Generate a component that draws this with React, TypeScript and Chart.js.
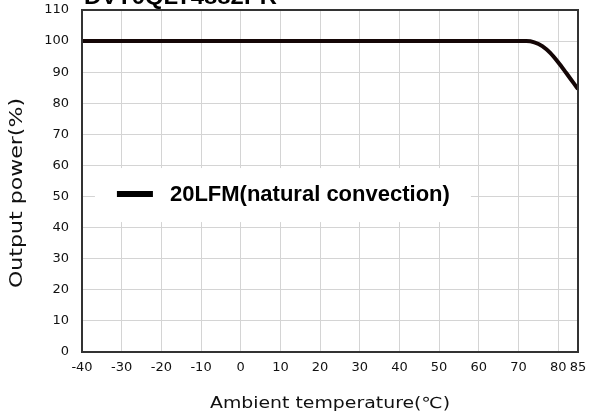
import React, { useEffect, useRef } from "react";
import { Chart, registerables } from "chart.js";
Chart.register(...registerables);

const temps = [-40, 0, 40, 70, 72, 74, 76, 78, 80, 82, 84, 85];
const power = [100, 100, 100, 100, 100, 99.6, 98.4, 96.2, 93.2, 89.8, 86.3, 84.6];
const xTicks = [-40, -30, -20, -10, 0, 10, 20, 30, 40, 50, 60, 70, 80, 85];
const seriesLabel = "20LFM(natural convection)";
const titleText = "DVT0QLT4882PR";
const xTitle = "Ambient temperature(\u2103)";
const yTitle = "Output power(%)";

const tickFont = { family: "'DejaVu Sans', sans-serif", size: 13 };

function drawWide(ctx: any, text: string, font: string, width: number) {
  ctx.font = font;
  const w = ctx.measureText(text).width;
  const s = width / w;
  ctx.scale(s, 1);
  ctx.fillText(text, 0, 0);
}

const framePlugin = {
  id: "frameLegend",
  afterDatasetsDraw(chart: any) {
    const { ctx, chartArea } = chart;
    const xs = chart.scales.x;
    const ys = chart.scales.y;
    ctx.save();
    // legend box
    const lx0 = xs.getPixelForValue(-31.2);
    const ly = ys.getPixelForValue(50.8);
    ctx.fillStyle = "#ffffff";
    ctx.fillRect(lx0 - 22, ly - 26, 376, 54);
    ctx.strokeStyle = "#000";
    ctx.lineWidth = 6;
    ctx.beginPath();
    ctx.moveTo(lx0, ly);
    ctx.lineTo(lx0 + 36, ly);
    ctx.stroke();
    ctx.fillStyle = "#000";
    ctx.font = "bold 22px 'Liberation Sans', Arial, sans-serif";
    ctx.textBaseline = "middle";
    ctx.fillText(seriesLabel, lx0 + 53, ly + 1);
    // frame
    ctx.strokeStyle = "#333";
    ctx.lineWidth = 2;
    ctx.strokeRect(chartArea.left, chartArea.top, chartArea.right - chartArea.left, chartArea.bottom - chartArea.top);
    ctx.restore();

    // clipped title
    ctx.save();
    ctx.fillStyle = "#000";
    ctx.textBaseline = "alphabetic";
    ctx.textAlign = "left";
    ctx.translate(84, 4);
    drawWide(ctx, titleText, "bold 22px 'Liberation Sans', Arial, sans-serif", 193);
    ctx.restore();

    // x title
    ctx.save();
    ctx.fillStyle = "#111";
    ctx.textBaseline = "middle";
    ctx.textAlign = "center";
    ctx.translate(330, 404);
    drawWide(ctx, xTitle, "15px 'DejaVu Sans', sans-serif", 240);
    ctx.restore();

    // y title
    ctx.save();
    ctx.fillStyle = "#111";
    ctx.textBaseline = "middle";
    ctx.textAlign = "center";
    ctx.translate(18, 193);
    ctx.rotate(-Math.PI / 2);
    drawWide(ctx, yTitle, "17px 'DejaVu Sans', sans-serif", 190);
    ctx.restore();
  },
};

export default function App() {
  const ref = useRef<HTMLCanvasElement>(null);
  useEffect(() => {
    const chart = new Chart(ref.current!, {
      type: "line",
      data: {
        datasets: [
          {
            label: seriesLabel,
            data: temps.map((t, i) => ({ x: t, y: power[i] })),
            borderColor: "#140606",
            borderWidth: 4,
            pointRadius: 0,
            cubicInterpolationMode: "monotone",
          },
        ],
      },
      options: {
        animation: false,
        responsive: false,
        layout: { padding: { top: 10, right: 18, left: 0, bottom: 0 } },
        plugins: { legend: { display: false }, tooltip: { enabled: false } },
        scales: {
          x: {
            type: "linear",
            min: -40,
            max: 85,
            afterBuildTicks: (s: any) => {
              s.ticks = xTicks.map((v) => ({ value: v }));
            },
            afterFit: (s: any) => {
              s.height = 68;
              s.paddingLeft = 0;
              s.paddingRight = 0;
            },
            grid: { color: "#d4d4d4", lineWidth: 1, drawTicks: false },
            border: { display: false },
            ticks: { color: "#111", font: tickFont, padding: 8, maxRotation: 0, autoSkip: false },
          },
          y: {
            min: 0,
            max: 110,
            afterBuildTicks: (s: any) => {
              const t = [];
              for (let v = 0; v <= 110; v += 10) t.push({ value: v });
              s.ticks = t;
            },
            afterFit: (s: any) => {
              s.width = 82;
              s.paddingTop = 0;
              s.paddingBottom = 0;
            },
            grid: { color: "#d4d4d4", lineWidth: 1, drawTicks: false },
            border: { display: false },
            ticks: { color: "#111", font: tickFont, padding: 13 },
          },
        },
      },
      plugins: [framePlugin],
    } as any);
    return () => chart.destroy();
  }, []);
  return (
    <div style={{ position: "fixed", left: 0, top: 0, width: 596, height: 420, background: "#fff" }}>
      <canvas ref={ref} width={596} height={420} style={{ width: 596, height: 420 }} />
    </div>
  );
}
